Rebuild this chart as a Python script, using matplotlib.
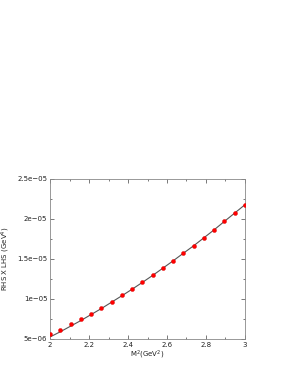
import numpy as np
import matplotlib.pyplot as plt
from matplotlib.ticker import MultipleLocator, FixedLocator

# M^2 values (GeV^2)
m2 = [2.0, 2.0526, 2.1053, 2.1579, 2.2105, 2.2632, 2.3158, 2.3684, 2.4211, 2.4737,
      2.5263, 2.5789, 2.6316, 2.6842, 2.7368, 2.7895, 2.8421, 2.8947, 2.9474, 3.0]
# points (red)
puntos = [5.6e-6, 6.16e-6, 6.83e-6, 7.46e-6, 8.17e-6, 8.88e-6, 9.67e-6, 1.046e-5, 1.125e-5, 1.209e-5,
          1.296e-5, 1.388e-5, 1.479e-5, 1.575e-5, 1.666e-5, 1.766e-5, 1.866e-5, 1.971e-5, 2.075e-5, 2.179e-5]
# curve (gray)
curva = [5.25e-6, 5.9e-6, 6.6e-6, 7.3e-6, 8.05e-6, 8.8e-6, 9.6e-6, 1.04e-5, 1.122e-5, 1.207e-5,
         1.294e-5, 1.385e-5, 1.477e-5, 1.572e-5, 1.665e-5, 1.765e-5, 1.865e-5, 1.97e-5, 2.074e-5, 2.178e-5]
yticks = [5e-6, 1e-5, 1.5e-5, 2e-5, 2.5e-5]
ytick_labels = ['5e\u221206', '1e\u221205', '1.5e\u221205', '2e\u221205', '2.5e\u221205']
xticks = [2, 2.2, 2.4, 2.6, 2.8, 3]
xtick_labels = ['2', '2.2', '2.4', '2.6', '2.8', '3']

fig = plt.figure(figsize=(2.95, 3.82), dpi=100)
ax = fig.add_axes([0.1695, 0.1126, 0.661, 0.419])

ax.plot(m2, curva, color='#555555', lw=0.8, zorder=2)
ax.plot(m2, puntos, 'o', color='red', ms=2.9, mec='#dd0000', mew=0.3, zorder=3)

ax.set_xlim(2, 3)
ax.set_ylim(5e-6, 2.5e-5)
ax.set_xticks(xticks)
ax.set_xticklabels(xtick_labels)
ax.set_yticks(yticks)
ax.set_yticklabels(ytick_labels)
ax.xaxis.set_minor_locator(MultipleLocator(0.1))
ax.yaxis.set_minor_locator(MultipleLocator(2.5e-6))
ax.tick_params(which='both', direction='in', top=True, right=True, labelsize=5,
               color='#444444', labelcolor='#222222', width=0.5, pad=2)
ax.tick_params(which='major', length=3)
ax.tick_params(which='minor', length=1.5)
for s in ax.spines.values():
    s.set_color('#888888')
    s.set_linewidth(0.6)

ax.set_xlabel('M$^2$(GeV$^2$)', fontsize=5, labelpad=1, color='#222222')
ax.set_ylabel('RHS X LHS (GeV$^4$)', fontsize=5, labelpad=4, color='#222222')

fig.savefig('out.png', dpi=100)
